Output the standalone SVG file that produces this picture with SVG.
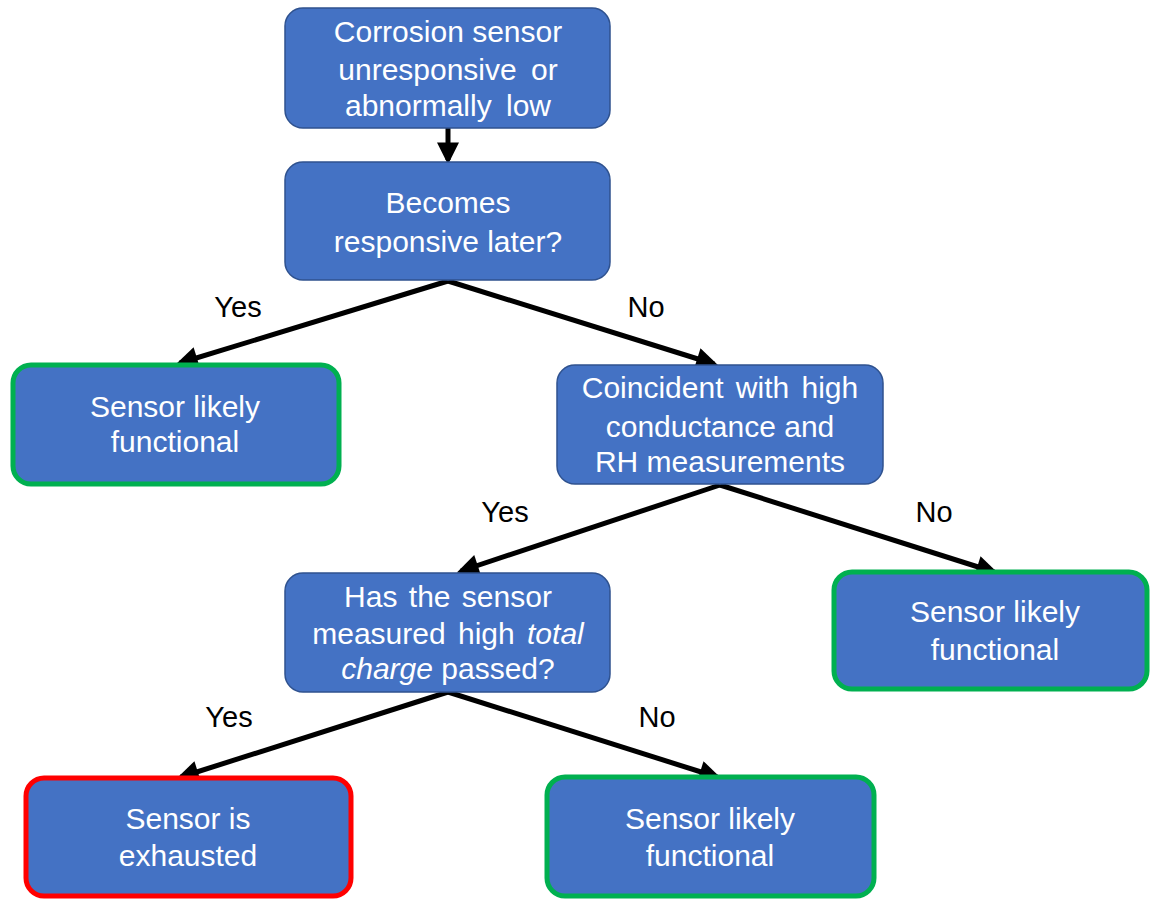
<svg xmlns="http://www.w3.org/2000/svg" width="1150" height="900" viewBox="0 0 1150 900">
<style>
.n{fill:#4472C4;stroke:#2F528F;stroke-width:1.5}
.g{fill:#4472C4;stroke:#00B050;stroke-width:5}
.r{fill:#4472C4;stroke:#FF0000;stroke-width:5}
.t{font-family:"Liberation Sans",Arial,sans-serif;font-size:30px;fill:#FFFFFF;text-anchor:middle}
.l{font-family:"Liberation Sans",Arial,sans-serif;font-size:29px;fill:#000000;text-anchor:middle}
.c{stroke:#000;stroke-width:5;fill:none;marker-end:url(#ah)}
</style>
<defs>
<marker id="ah" viewBox="0 0 10 10" refX="8" refY="5" markerWidth="4.8" markerHeight="4.4" orient="auto" markerUnits="strokeWidth">
<path d="M0,0 L10,5 L0,10 z" fill="#000"/>
</marker>
</defs>
<g id="connectors">
<line class="c" x1="448" y1="128" x2="448" y2="160"/>
<line class="c" x1="448" y1="281" x2="180" y2="363"/>
<line class="c" x1="448" y1="281" x2="714" y2="364"/>
<line class="c" x1="720" y1="485" x2="461" y2="571"/>
<line class="c" x1="720" y1="485" x2="994" y2="572"/>
<line class="c" x1="448" y1="692" x2="181" y2="777"/>
<line class="c" x1="448" y1="692" x2="717" y2="777"/>
<text class="l" x="238" y="317">Yes</text>
<text class="l" x="646" y="317">No</text>
<text class="l" x="505" y="522">Yes</text>
<text class="l" x="934" y="522">No</text>
<text class="l" x="229" y="727">Yes</text>
<text class="l" x="657" y="727">No</text>
</g>
<g id="n1">
<rect class="n" x="285" y="8" width="325" height="120" rx="18"/>
<text class="t" x="448" y="42">Corrosion sensor</text>
<text class="t" x="448" y="80" word-spacing="6">unresponsive or</text>
<text class="t" x="448" y="116" word-spacing="6">abnormally low</text>
</g>
<g id="n2">
<rect class="n" x="285" y="162" width="325" height="118" rx="18"/>
<text class="t" x="448" y="213">Becomes</text>
<text class="t" x="448" y="252">responsive later?</text>
</g>
<g id="n3">
<rect class="g" x="13" y="365" width="326" height="119" rx="18"/>
<text class="t" x="175" y="417">Sensor likely</text>
<text class="t" x="175" y="452">functional</text>
</g>
<g id="n4">
<rect class="n" x="557" y="365" width="326" height="119" rx="18"/>
<text class="t" x="720" y="398" word-spacing="4">Coincident with high</text>
<text class="t" x="720" y="437">conductance and</text>
<text class="t" x="720" y="472">RH measurements</text>
</g>
<g id="n5">
<rect class="n" x="285" y="573" width="325" height="119" rx="18"/>
<text class="t" x="448" y="607" word-spacing="3">Has the sensor</text>
<text class="t" x="448" y="644" word-spacing="4">measured high <tspan font-style="italic">total</tspan></text>
<text class="t" x="448" y="679"><tspan font-style="italic">charge</tspan> passed?</text>
</g>
<g id="n6">
<rect class="g" x="834" y="572" width="313" height="117" rx="18"/>
<text class="t" x="995" y="622">Sensor likely</text>
<text class="t" x="995" y="660">functional</text>
</g>
<g id="n7">
<rect class="r" x="26" y="778" width="325" height="118" rx="18"/>
<text class="t" x="188" y="829">Sensor is</text>
<text class="t" x="188" y="866">exhausted</text>
</g>
<g id="n8">
<rect class="g" x="547" y="777" width="327" height="119" rx="18"/>
<text class="t" x="710" y="829">Sensor likely</text>
<text class="t" x="710" y="866">functional</text>
</g>
</svg>
